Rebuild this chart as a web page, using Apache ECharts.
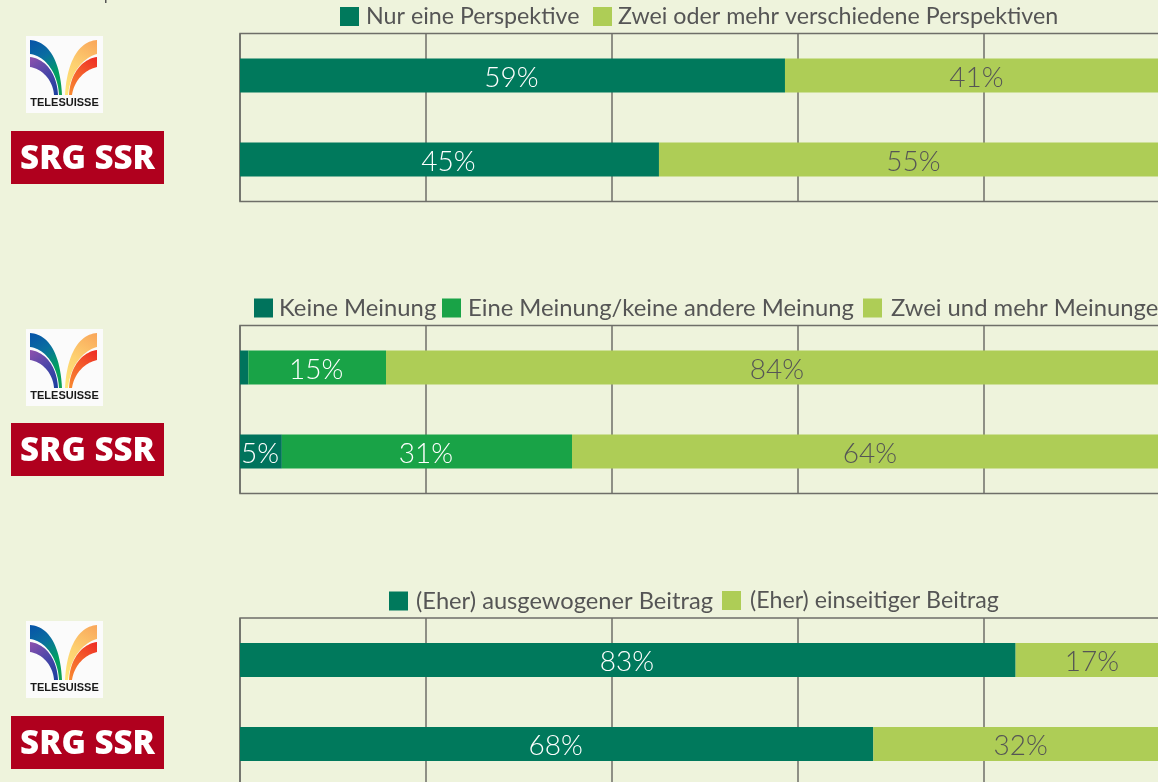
<!DOCTYPE html>
<html><head><meta charset="utf-8">
<style>html,body{margin:0;padding:0;background:#eef3dc;overflow:hidden}#c{width:1158px;height:782px}</style>
<script src="https://cdn.jsdelivr.net/npm/echarts@6/dist/echarts.min.js"></script>
</head><body><div id="c"></div>
<script>
const categories = ['Telesuisse', 'SRG SSR'];
const nurEine = [58.6, 45.05];
const zweiOderMehr = [41.4, 54.95];
const keineMeinung = [0.9, 4.5];
const eineMeinung = [14.8, 31.2];
const zweiUndMehr = [84.3, 64.3];
const ausgewogen = [83.4, 68.1];
const einseitig = [16.6, 31.9];
const xTicks = [0, 20, 40, 60, 80, 100];

const DARK = '#00795c', TEAL = '#00735c', MID = '#19a347', LIGHT = '#aecd56', TXT = '#555555', LINE = '#6e6e68';
const FONT = 'Lato';
const panels = [
  {top: 33.5, series: [['Nur eine Perspektive', nurEine, DARK, '#fff'], ['Zwei oder mehr verschiedene Perspektiven', zweiOderMehr, LIGHT, TXT]],
   legend: [340, 593], pad: [2, 1], size: [23.25, 23.25], legendTop: 5},
  {top: 325.5, series: [['Keine Meinung', keineMeinung, TEAL, '#fff'], ['Eine Meinung/keine andere Meinung', eineMeinung, MID, '#fff'], ['Zwei und mehr Meinungen', zweiUndMehr, LIGHT, TXT]],
   legend: [254, 442, 863], pad: [1, 2, 4], size: [23.8, 23.8, 23.8], legendTop: 296},
  {top: 618, series: [['(Eher) ausgewogener Beitrag', ausgewogen, DARK, '#fff'], ['(Eher) einseitiger Beitrag', einseitig, LIGHT, TXT]],
   legend: [389, 722], pad: [3, 4], size: [23.7, 23.2], legendTop: 589}
];
const grids = [], xAxes = [], yAxes = [], series = [], legends = [];
panels.forEach((p, i) => {
  grids.push({left: 240, top: p.top, width: 930, height: 168, outerBoundsMode: 'none', show: true, backgroundColor: 'transparent', borderColor: LINE, borderWidth: 1.5});
  xAxes.push({type: 'value', gridIndex: i, min: xTicks[0], max: xTicks[xTicks.length - 1], interval: xTicks[1],
    axisLabel: {show: false}, axisTick: {show: false}, axisLine: {show: false},
    splitLine: {show: true, lineStyle: {color: LINE, width: 1.5}}});
  yAxes.push({type: 'category', gridIndex: i, data: categories, inverse: true,
    axisLabel: {show: false}, axisTick: {show: false}, axisLine: {show: false}, splitLine: {show: false}});
  p.series.forEach((s, j) => {
    series.push({name: s[0], type: 'bar', stack: 'p' + i, xAxisIndex: i, yAxisIndex: i, data: s[1], barWidth: 34,
      itemStyle: {color: s[2]}, emphasis: {disabled: true}, animation: false,
      label: {show: true, position: 'inside', offset: [-1, 2], color: s[3], fontFamily: FONT, fontWeight: 300, fontSize: 28,
        formatter: d => d.value < 2 ? '' : Math.round(d.value) + '%'}});
    legends.push({data: [s[0]], left: p.legend[j], top: p.legendTop, padding: 0, itemWidth: 19, itemHeight: 19,
      icon: 'rect', itemGap: 0, selectedMode: false,
      textStyle: {color: TXT, fontFamily: FONT, fontSize: p.size[j], padding: [0, 0, 0, p.pad[j]]}});
  });
});

function curve(a, b, c, d) {
  const pts = [];
  for (let k = 0; k <= 24; k++) {
    const t = k / 24, u = 1 - t;
    pts.push([0, 1].map(n => u*u*u*a[n] + 3*u*u*t*b[n] + 3*u*t*t*c[n] + t*t*t*d[n]));
  }
  return pts;
}
function band(outer, inner, stops, x, x2) {
  return {type: 'polygon', shape: {points: curve(...outer).concat(curve(...inner).reverse())},
    style: {fill: {type: 'linear', x: x, y: 0, x2: x2, y2: 1, colorStops: stops.map((c, i) => ({offset: i / (stops.length - 1), color: c}))}}};
}
function logos(y1, y2) {
  const g = [
    {type: 'rect', shape: {x: 0, y: 0, width: 77, height: 77}, style: {fill: '#fbfbfb'}},
    band([[4,4],[20,5],[34,20],[36,59]], [[4,18],[20,20],[32,38],[33,59]], ['#0752a8', '#0a6ea0', '#00a062', '#12a050'], 0, 1),
    band([[4,21],[20,23],[31,38],[32,59]], [[4,31],[17,33],[27,45],[28,59]], ['#8f52ad', '#4a45a8', '#1a3f9f'], 0, 1),
    band([[71,4],[55,5],[41,22],[39,59]], [[71,18],[56,22],[44,38],[42,59]], ['#f9a55a', '#fdd070', '#ffe87a'], 1, 0),
    band([[71,21],[56,23],[44,38],[43,59]], [[71,31],[58,34],[48,45],[46,59]], ['#ee2a24', '#f4602c', '#f98a30'], 1, 0),
    {type: 'text', x: 38.5, y: 67, style: {text: 'TELESUISSE', fill: '#1a1a1a', font: 'bold 11px "Liberation Sans"', textAlign: 'center', textVerticalAlign: 'middle'}}
  ];
  return [
    {type: 'group', x: 26, y: y1, children: g},
    {type: 'group', x: 11, y: y2, children: [
      {type: 'rect', shape: {x: 0, y: 0, width: 153, height: 53}, style: {fill: '#b0001e'}},
      {type: 'text', x: 76.5, y: 28.5, style: {text: 'SRG SSR', fill: '#fff', font: '800 33px "Open Sans"', textAlign: 'center', textVerticalAlign: 'middle'}}
    ]}
  ];
}
const graphic = [...logos(36, 131), ...logos(329, 423), ...logos(621, 716),
  {type: 'rect', shape: {x: 105, y: 0, width: 1.5, height: 3}, style: {fill: '#555'}}];

const chart = echarts.init(document.getElementById('c'), null, {renderer: 'canvas'});
chart.setOption({backgroundColor: '#eef3dc', animation: false, tooltip: {show: false},
  grid: grids, xAxis: xAxes, yAxis: yAxes, series, legend: legends, graphic: {elements: graphic}});
</script></body></html>
